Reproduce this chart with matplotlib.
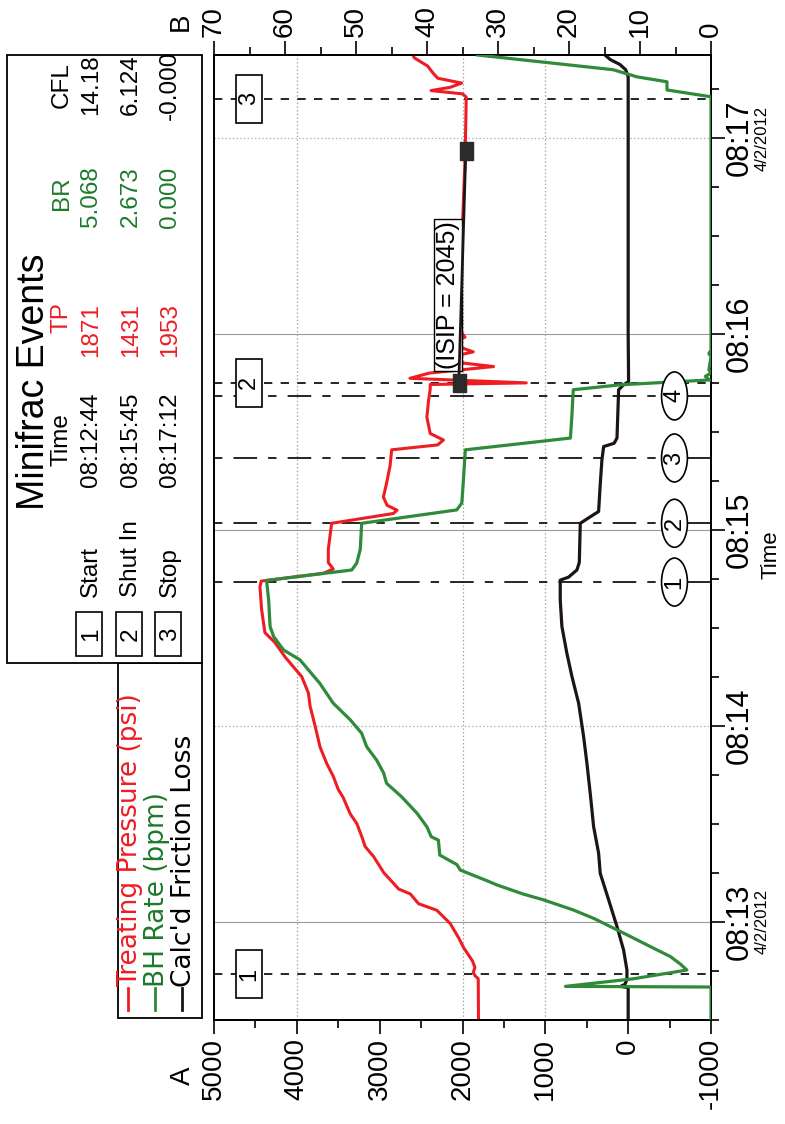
import matplotlib.pyplot as plt
import matplotlib.patches as patches
from matplotlib.lines import Line2D
from matplotlib.ticker import MultipleLocator

plt.rcParams['font.family'] = ['Liberation Sans', 'DejaVu Sans']
plt.rcParams['lines.scale_dashes'] = False
plt.rcParams['axes.unicode_minus'] = False

RED = '#ee1d24'
GREEN = '#2f8b3a'
DKGREEN = '#1d7a2c'
BLACK = '#1c1416'

# time in seconds after 08:12:00 (4/2/2012)
tp_t = [29.9, 42.5, 43.5, 44.5, 46, 48, 52, 55, 59.5, 63.5, 65.5, 68.5, 70, 75, 80, 83, 86, 90,
        93, 98, 100.5, 104.5, 108.5, 113.5, 120, 126, 130, 135, 138, 141, 145.5, 148.5, 155.5,
        162.5, 164.3, 166.7, 168, 170, 174, 178, 182, 185, 186, 187.5, 190, 194.5, 199.5, 204.5,
        206, 207.5, 209.5, 214.5, 219.5, 223, 224.5, 225, 226.4, 228, 230, 232, 234.5, 237, 239,
        242.3, 245, 250, 260, 270, 280, 293, 305, 312.5, 313.5, 314.5, 315.5, 316.8, 318.3, 320,
        322, 324.5, 325.4]
tp_psi = [1807, 1810, 1850, 1870, 1850, 1880, 1985, 2045, 2150, 2310, 2530, 2630, 2770, 2950, 3075,
          3175, 3215, 3275, 3355, 3440, 3500, 3560, 3640, 3720, 3780, 3840, 3860, 3940, 4040, 4140,
          4265, 4385, 4425, 4445, 4430, 3680, 3560, 3620, 3620, 3600, 3580, 2835, 2790, 2910, 2955,
          2915, 2875, 2855, 2300, 2230, 2390, 2430, 2410, 2390, 2390, 1230, 2635, 2400, 1625, 2310,
          1870, 2150, 1970, 2070, 2030, 2035, 2020, 2005, 1990, 1970, 1960, 1955, 2000, 2380, 2150,
          2010, 2300, 2360, 2420, 2580, 2600]

br_t = [29.9, 40.0, 40.2, 42.5, 45.2, 47, 49.3, 51.9, 56.5, 61, 63.6, 66.7, 68.5, 71.3, 72.5, 75.8,
        77.5, 80.4, 85, 86, 89, 93.2, 98.3, 102.4, 105.5, 109.5, 113.6, 117.7, 121.8, 126.9, 133,
        140.2, 143.2, 147.3, 150.4, 158.5, 164.5, 167.7, 169.8, 174, 182, 186.1, 188.2, 194.3,
        204.5, 208.1, 214.7, 222.9, 224.4, 225.9, 227, 228, 229, 233, 234, 235, 312.6, 314.7,
        317.2, 318.7, 320.9, 325.4]
br_bpm = [0, 0, 20.5, 11, 3.4, 4.3, 5.7, 8.1, 12.3, 16.5, 19.4, 23.6, 26.5, 30.2, 31.5, 35.3, 35.8,
          38.2, 38.4, 39.4, 40.0, 41.4, 43.6, 45.7, 46.1, 47.1, 48.5, 49.2, 50.8, 53.2, 55.1, 57.9,
          60.2, 61.6, 62.1, 62.3, 62.6, 50.6, 49.9, 49.4, 49.2, 35.8, 35.1, 34.9, 34.6, 19.8, 19.6,
          19.4, 12.8, 0.2, 0.8, 0.0, 0.3, 0.0, 0.3, 0.0, 0.0, 6.2, 6.2, 10.4, 13.8, 32.9]

cfl_t = [29.9, 39.8, 40.2, 40.8, 42.2, 45.2, 51.3, 58.5, 66.7, 74.8, 81, 89.1, 99.3, 108.5, 116.7,
         126.9, 135.1, 142.2, 150.4, 158.5, 164.6, 165.5, 167.7, 170, 182, 184, 185.6, 194, 201.4,
         205.5, 206.5, 208.1, 222.9, 224.4, 225.4, 240, 318.7, 320.9, 322.5, 324, 325.4]
cfl_psi = [0, 0, 90, 40, 15, 15, 55, 135, 236, 337, 357, 417, 458, 498, 538, 598, 679, 740, 800,
           820, 820, 720, 619, 590, 578, 457, 357, 337, 317, 296, 170, 135, 115, 55, -5, 0, 0, 30,
           100, 216, 280]

# Minifrac events table
event_ids = ['1', '2', '3']
event_names = ['Start', 'Shut In', 'Stop']
event_t = [44, 225, 312]
event_clock = ['08:12:44', '08:15:45', '08:17:12']
event_tp = ['1871', '1431', '1953']
event_br = ['5.068', '2.673', '0.000']
event_cfl = ['14.18', '6.124', '-0.000']

# rate step markers
step_ids = ['1', '2', '3', '4']
step_t = [164, 182, 202, 221]

# ISIP fit line
isip_t = [224.9, 295.9]
isip_psi = [2045, 1960]

time_ticks = [60, 120, 180, 240, 300]
time_labels = ['08:13', '08:14', '08:15', '08:16', '08:17']
time_dates = ['4/2/2012', '', '', '', '4/2/2012']

W, H = 785, 1124
L, R, T, B = 214, 711, 55, 1020

fig = plt.figure(figsize=(W / 100, H / 100), dpi=100)
ax = fig.add_axes([L / W, 1 - B / H, (R - L) / W, (B - T) / H])
ax.set_xlim(5000, -1000)
ax.set_ylim(29.9, 325.4)

for s in ax.spines.values():
    s.set_linewidth(1.3)

# A axis (psi) along the bottom
ax.xaxis.set_major_locator(MultipleLocator(1000))
ax.xaxis.set_minor_locator(MultipleLocator(500))
ax.tick_params(axis='x', which='major', length=10, width=1.2, direction='out',
               labelsize=20, labelrotation=90, pad=3)
ax.tick_params(axis='x', which='minor', length=6, width=1.2, direction='out')

# time axis along the right
ax.yaxis.tick_right()
ax.yaxis.set_major_locator(MultipleLocator(60))
ax.yaxis.set_minor_locator(MultipleLocator(15))
ax.tick_params(axis='y', which='major', length=10, width=1.2, direction='out', labelright=False)
ax.tick_params(axis='y', which='minor', length=6, width=1.2, direction='out')

# grid
for tt in time_ticks:
    if tt in (120, 300):
        ax.axhline(tt, color='#b0b0b0', lw=0.9, ls=':', zorder=0.5)
    else:
        ax.axhline(tt, color='#9a9a9a', lw=0.8, zorder=0.5)
for a in (4000, 2000, 1000):
    ax.axvline(a, color='#a0a0a0', lw=0.9, ls=':', zorder=0.5)

yt = ax.get_yaxis_transform()
for lab, dt, tt in zip(time_labels, time_dates, time_ticks):
    ax.text(1.058, tt, lab, transform=yt, rotation=90, ha='center', va='center',
            fontsize=22, clip_on=False)
    if dt:
        ax.text(1.103, tt, dt, transform=yt, rotation=90, ha='center', va='center',
                fontsize=12, clip_on=False)
ax.text(1.12, 0.482, 'Time', transform=ax.transAxes, rotation=90, ha='center', va='center',
        fontsize=16)

# event lines
for tt in event_t:
    ax.axhline(tt, color='black', lw=1.2, dashes=(6, 6), zorder=1)
for tt in step_t:
    ax.add_line(Line2D([0, 0.901], [tt, tt], transform=yt, color='black', lw=1.2,
                       dashes=(6, 8, 17, 8), zorder=1))
    ax.add_line(Line2D([0.952, 1.0], [tt, tt], transform=yt, color='black', lw=1.2, zorder=1))

# data traces
ax.plot(tp_psi, tp_t, color=RED, lw=2.2, zorder=3)
ax.plot(cfl_psi, cfl_t, color=BLACK, lw=2.3, zorder=3)
box_marker = [(-0.72, -1), (0.72, -1), (0.72, 1), (-0.72, 1), (-0.72, -1)]
ax.plot(isip_psi, isip_t, color=BLACK, lw=2.0, marker=box_marker, ms=13,
        mfc='#2b2b2b', mec='#2b2b2b', zorder=4)
ax.text(2173, 252, '(ISIP = 2045)', rotation=90, ha='center', va='center', fontsize=18,
        bbox=dict(boxstyle='square,pad=0.08', fc='white', ec='black', lw=1), zorder=3.5)

# B axis (bpm) along the top
ax2 = ax.twiny()
ax2.set_xlim(70, 0)
ax2.xaxis.set_major_locator(MultipleLocator(10))
ax2.xaxis.set_minor_locator(MultipleLocator(5))
ax2.tick_params(axis='x', which='major', length=10, width=1.2, direction='out',
                labelsize=20, labelrotation=90, pad=3)
ax2.tick_params(axis='x', which='minor', length=6, width=1.2, direction='out')
for s in ax2.spines.values():
    s.set_linewidth(1.3)
ax2.plot(br_bpm, br_t, color=GREEN, lw=2.3, zorder=3)

yt2 = ax2.get_yaxis_transform()
bw, bh = 0.052, 14.7
for eid, tt in zip(event_ids, event_t):
    ax2.add_patch(patches.Rectangle((0.0705 - bw / 2, tt - bh / 2), bw, bh, transform=yt2,
                                    fc='white', ec='black', lw=1.2, zorder=5))
    ax2.text(0.0705, tt, eid, transform=yt2, rotation=90, ha='center', va='center',
             fontsize=17, zorder=6)
for eid, tt in zip(step_ids, step_t):
    ax2.add_patch(patches.Ellipse((0.9265, tt), bw, bh, transform=yt2, fc='white', ec='black',
                                  lw=1.2, zorder=5))
    ax2.text(0.9265, tt, eid, transform=yt2, rotation=90, ha='center', va='center',
             fontsize=17, zorder=6)

# overlay for legend, events table and axis letters (pixel coordinates)
ov = fig.add_axes([0, 0, 1, 1], zorder=5)
ov.set_xlim(0, W)
ov.set_ylim(H, 0)
ov.axis('off')

ov.text(183, 1076, 'A', rotation=90, ha='center', va='center', fontsize=20)
ov.text(181, 22, 'B', rotation=90, ha='center', va='center', fontsize=20)

# series legend
ov.add_patch(patches.Rectangle((118, 663), 84, 355, fc='white', ec='black', lw=1.3, zorder=1))
legend_items = [('Treating Pressure (psi)', RED, RED), ('BH Rate (bpm)', GREEN, DKGREEN),
                ("Calc'd Friction Loss", BLACK, 'black')]
for (lab, lc, tc), lx in zip(legend_items, [128, 155, 182]):
    ov.plot([lx, lx], [1010, 988], color=lc, lw=2.0, zorder=2)
    ov.text(lx + 9, 987, lab, rotation=90, rotation_mode='anchor', ha='left', va='baseline',
            color=tc, fontsize=19, family='DejaVu Sans', zorder=2)

# events table
ov.add_patch(patches.Rectangle((7, 55), 195, 608, fc='white', ec='black', lw=1.3, zorder=3))
ov.text(44, 382, 'Minifrac Events', rotation=90, rotation_mode='anchor', ha='center',
        va='baseline', fontsize=27, zorder=4)
tkw = dict(rotation=90, rotation_mode='anchor', va='baseline', fontsize=17.5, zorder=4)
hx = 68
ov.text(hx, 440, 'Time', ha='center', **tkw)
ov.text(hx, 318, 'TP', ha='center', color=RED, **tkw)
ov.text(hx, 193, 'BR', ha='center', color=DKGREEN, **tkw)
ov.text(hx, 85, 'CFL', ha='center', **tkw)
for i, rx in enumerate([89, 129, 168]):
    bx = rx + 8
    ov.add_patch(patches.Rectangle((rx - 13, 612), 26, 44, fc='white', ec='black', lw=1.2,
                                   zorder=4))
    ov.text(bx, 634, event_ids[i], ha='center', **tkw)
    ov.text(bx, 597, event_names[i], ha='left', **tkw)
    ov.text(bx, 440, event_clock[i], ha='center', **tkw)
    ov.text(bx, 330, event_tp[i], ha='center', color=RED, **tkw)
    ov.text(bx, 197, event_br[i], ha='center', color=DKGREEN, **tkw)
    ov.text(bx, 85, event_cfl[i], ha='center', **tkw)

fig.savefig('out.png', dpi=100)
